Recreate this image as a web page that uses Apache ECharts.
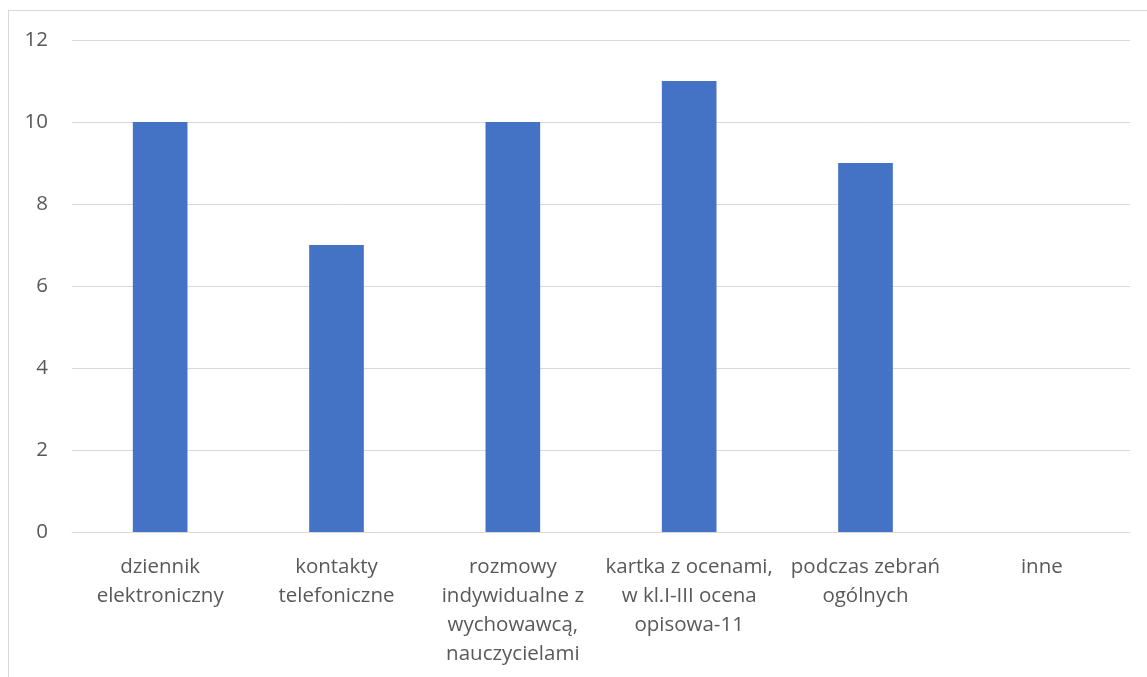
<!DOCTYPE html>
<html><head><meta charset="utf-8">
<script src="https://cdn.jsdelivr.net/npm/echarts@6/dist/echarts.min.js"></script>
<style>html,body{margin:0;padding:0;background:#fff}#c{width:1147px;height:677px}
#frame{position:absolute;left:8px;top:10px;width:1145px;height:680px;border:1px solid #d9d9d9;box-sizing:border-box;pointer-events:none}</style>
</head><body><div id="c"></div><div id="frame"></div>
<script>
const categories = ["dziennik\nelektroniczny","kontakty\ntelefoniczne","rozmowy\nindywidualne z\nwychowawcą,\nnauczycielami","kartka z ocenami,\nw kl.I-III ocena\nopisowa-11","podczas zebrań\nogólnych","inne"];
const values = [10, 7, 10, 11, 9, 0];
const yTicks = {min: 0, max: 12, interval: 2};
const chart = echarts.init(document.getElementById('c'));
chart.setOption({
  animation: false,
  grid: {left: 72, right: 17, top: 40, bottom: 145},
  xAxis: {
    type: 'category', data: categories,
    axisLine: {lineStyle: {color: '#d9d9d9', width: 1}},
    axisTick: {show: false},
    axisLabel: {color: '#595959', fontFamily: 'Open Sans', fontSize: 20.5, lineHeight: 29, margin: 21, interval: 0}
  },
  yAxis: {
    type: 'value', min: yTicks.min, max: yTicks.max, interval: yTicks.interval,
    axisLine: {show: false}, axisTick: {show: false},
    axisLabel: {color: '#595959', fontFamily: 'Open Sans', fontSize: 20.5, margin: 24},
    splitLine: {lineStyle: {color: '#d9d9d9', width: 1}}
  },
  series: [{type: 'bar', data: values, barWidth: '31%', itemStyle: {color: '#4472C4'}}]
});
</script></body></html>
